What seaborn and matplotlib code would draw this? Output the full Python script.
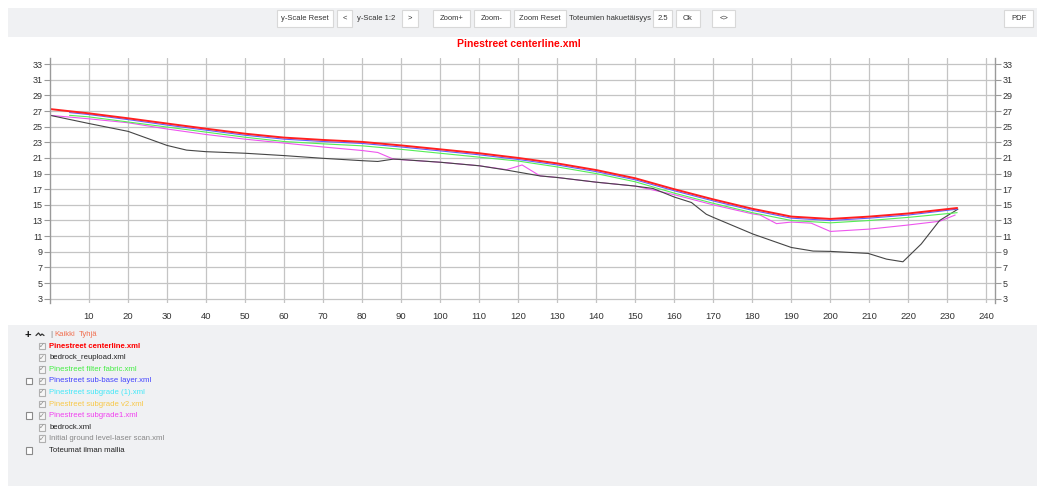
import pandas as pd
import seaborn as sns
import matplotlib.pyplot as plt
from matplotlib.patches import Rectangle
from matplotlib.lines import Line2D

# Profiilien data (paalu, korko)
centerline_x = [0, 10, 20, 30, 40, 50, 60, 70, 80, 90, 100, 110, 120, 130, 140, 150, 160, 170, 180, 190, 200, 210, 220, 232.5]
centerline_y = [27.25, 26.7, 26.07, 25.4, 24.74, 24.1, 23.6, 23.3, 23.05, 22.6, 22.1, 21.6, 21.0, 20.3, 19.45, 18.4, 17.0, 15.7, 14.5, 13.5, 13.2, 13.5, 13.9, 14.6]

subbase_x = [5, 10, 20, 30, 40, 50, 60, 70, 80, 90, 100, 110, 120, 130, 140, 150, 160, 170, 180, 190, 200, 210, 220, 232.5]
subbase_y = [26.8, 26.55, 25.9, 25.2, 24.55, 23.9, 23.4, 23.1, 22.85, 22.4, 21.9, 21.4, 20.8, 20.1, 19.25, 18.2, 16.8, 15.5, 14.3, 13.3, 13.0, 13.3, 13.7, 14.45]

fabric_x = [5, 10, 20, 30, 40, 50, 60, 70, 80, 90, 100, 110, 120, 130, 140, 150, 160, 170, 180, 190, 200, 210, 220, 232.5]
fabric_y = [26.45, 26.25, 25.6, 24.95, 24.3, 23.65, 23.1, 22.8, 22.55, 22.1, 21.6, 21.1, 20.6, 19.85, 19.0, 17.95, 16.5, 15.2, 14.0, 13.0, 12.7, 13.0, 13.4, 14.0]

subgrade1_x = [0, 10, 20, 30, 40, 50, 60, 70, 80, 84, 88, 100, 110, 117, 121, 125.6, 130, 140, 150, 160, 170, 180, 182, 186.2, 190, 195.1, 200, 210, 219.5, 228, 232]
subgrade1_y = [26.45, 26.0, 25.5, 24.7, 24.0, 23.4, 22.9, 22.4, 21.95, 21.7, 20.85, 20.45, 20.0, 19.5, 20.1, 18.7, 18.5, 17.9, 17.4, 16.3, 15.0, 13.85, 13.7, 12.6, 12.8, 12.66, 11.6, 11.9, 12.4, 12.9, 13.7]

bedrock_x = [0, 10, 20, 30, 35, 40, 50, 60, 70, 80, 84, 88, 90, 100, 110, 117, 125.6, 130, 140, 150, 154.5, 160, 164.4, 168.2, 170, 180.2, 190, 195.6, 200, 209.7, 214.4, 218.6, 223.3, 228, 232.7]
bedrock_y = [26.45, 25.4, 24.4, 22.6, 22.0, 21.8, 21.6, 21.3, 20.95, 20.65, 20.55, 20.85, 20.8, 20.45, 20.0, 19.45, 18.7, 18.5, 17.9, 17.4, 17.1, 16.0, 15.3, 13.8, 13.4, 11.26, 9.55, 9.09, 9.05, 8.79, 8.06, 7.72, 10.0, 13.0, 14.45]

series = [
    ("Pinestreet subgrade1.xml", subgrade1_x, subgrade1_y, "#ee55ee", 0.8),
    ("bedrock.xml", bedrock_x, bedrock_y, "#454545", 0.8),
    ("Pinestreet filter fabric.xml", fabric_x, fabric_y, "#55ee55", 0.8),
    ("Pinestreet sub-base layer.xml", subbase_x, subbase_y, "#6060ff", 0.8),
    ("Pinestreet centerline.xml", centerline_x, centerline_y, "#ff2020", 1.4),
]

x_ticks = list(range(10, 250, 10))
y_ticks = list(range(3, 35, 2))

# Selitteen rivit
legend_names = ["Pinestreet centerline.xml", "bedrock_reupload.xml", "Pinestreet filter fabric.xml",
                "Pinestreet sub-base layer.xml", "Pinestreet subgrade (1).xml", "Pinestreet subgrade v2.xml",
                "Pinestreet subgrade1.xml", "bedrock.xml", "Initial ground level-laser scan.xml"]
legend_colors = ["#ff0000", "#222222", "#44ee44", "#4444ff", "#44e8f8", "#f8c848", "#f040f0", "#222222", "#888888"]
legend_outer_box = [False, False, False, True, False, False, True, False, False]

# Työkalupalkki
buttons = [(277, 333, "y-Scale Reset"), (337, 352, "<"), (402, 418, ">"), (433, 470, "Zoom+"),
           (474, 510, "Zoom-"), (514, 566, "Zoom Reset"), (653, 672, "2.5"), (676, 700, "Ok"),
           (712, 735, "<>"), (1004, 1033, "PDF")]

sns.set_style("white")
plt.rcParams['font.family'] = ['Liberation Sans', 'DejaVu Sans']

W, H = 1037, 486
fig = plt.figure(figsize=(W / 100, H / 100), dpi=100)


def fx(px):
    return px / W


def fy(py):
    return 1 - py / H


def box(x0, y0, x1, y1, face, edge="none", lw=0.8):
    fig.add_artist(Rectangle((fx(x0), fy(y1)), fx(x1) - fx(x0), fy(y0) - fy(y1),
                             transform=fig.transFigure, facecolor=face, edgecolor=edge, linewidth=lw))


# taustapaneelit
box(8, 8, 1037, 37, "#f0f1f3")
box(8, 325, 1037, 486, "#f0f1f3")

for x0, x1, label in buttons:
    box(x0, 10, x1, 27, "white", "#d8d8d8")
    fig.text(fx((x0 + x1) / 2), fy(18.5), label, fontsize=5.5, ha="center", va="center", color="#333333")
fig.text(fx(376), fy(18.5), "y-Scale 1:2", fontsize=5.5, ha="center", va="center", color="#333333")
fig.text(fx(610), fy(18.5), "Toteumien hakuetäisyys", fontsize=5.5, ha="center", va="center", color="#333333")

fig.text(0.5, fy(44), "Pinestreet centerline.xml", fontsize=7.5, fontweight="bold",
         ha="center", va="center", color="#ff0000")

ax = fig.add_axes([fx(50), fy(303), fx(995) - fx(50), fy(58) - fy(303)])
for name, xs, ys, color, lw in series:
    df = pd.DataFrame({"paalu": xs, "korko": ys})
    sns.lineplot(data=df, x="paalu", y="korko", sort=False, estimator=None,
                 color=color, linewidth=lw, ax=ax)

ax.set_xlim(0, 242.2)
ax.set_ylim(2.45, 33.78)
ax.set_xticks(x_ticks)
ax.set_yticks(y_ticks)
ax.set_xlabel("")
ax.set_ylabel("")
ax.grid(True, color="#c4c4c4", linewidth=0.9)
ax.set_axisbelow(True)
for side in ["top", "bottom"]:
    ax.spines[side].set_visible(False)
for side in ["left", "right"]:
    ax.spines[side].set_color("#9a9a9a")
    ax.spines[side].set_linewidth(1.0)
ax.tick_params(axis="y", left=True, right=True, labelleft=True, labelright=True,
               length=4, width=0.8, color="#9a9a9a", labelsize=6.5, labelcolor="#333333", pad=1.5)
ax.tick_params(axis="x", bottom=False, labelsize=6.8, labelcolor="#333333", pad=3)

# selite
row0 = 334.7
fig.text(fx(27.5), fy(row0), "+", fontsize=8, fontweight="bold", ha="center", va="center", color="#111111")
fig.add_artist(Line2D([fx(36), fx(38.5), fx(40.5), fx(42), fx(44)],
                      [fy(335.5), fy(333), fy(335.5), fy(334), fy(335.5)],
                      transform=fig.transFigure, color="#333333", linewidth=0.9))
fig.text(fx(50), fy(row0), "|", fontsize=6, ha="left", va="center", color="#777777")
fig.text(fx(54.5), fy(row0), "Kaikki", fontsize=5.6, ha="left", va="center", color="#f07050")
fig.text(fx(79), fy(row0), "Tyhjä", fontsize=5.6, ha="left", va="center", color="#f07050")

for i, (name, color, outer) in enumerate(zip(legend_names, legend_colors, legend_outer_box)):
    yy = 346 + i * 11.6
    if outer:
        box(25.5, yy - 3.3, 32, yy + 3.3, "white", "#8a8a8a")
    box(38.5, yy - 3.3, 45, yy + 3.3, "#f6f6f6", "#b0b0b0")
    fig.text(fx(41.8), fy(yy), "✓", fontsize=5, ha="center", va="center", color="#888888",
             family=["DejaVu Sans"])
    fig.text(fx(49.3), fy(yy), name, fontsize=5.6, ha="left", va="center", color=color,
             fontweight="bold" if i == 0 else "normal")

yy = 346 + 9 * 11.6
box(25.5, yy - 3.3, 32, yy + 3.3, "white", "#8a8a8a")
fig.text(fx(49.3), fy(yy), "Toteumat ilman mallia", fontsize=5.6, ha="left", va="center", color="#222222")

fig.savefig("out.png", dpi=100)
